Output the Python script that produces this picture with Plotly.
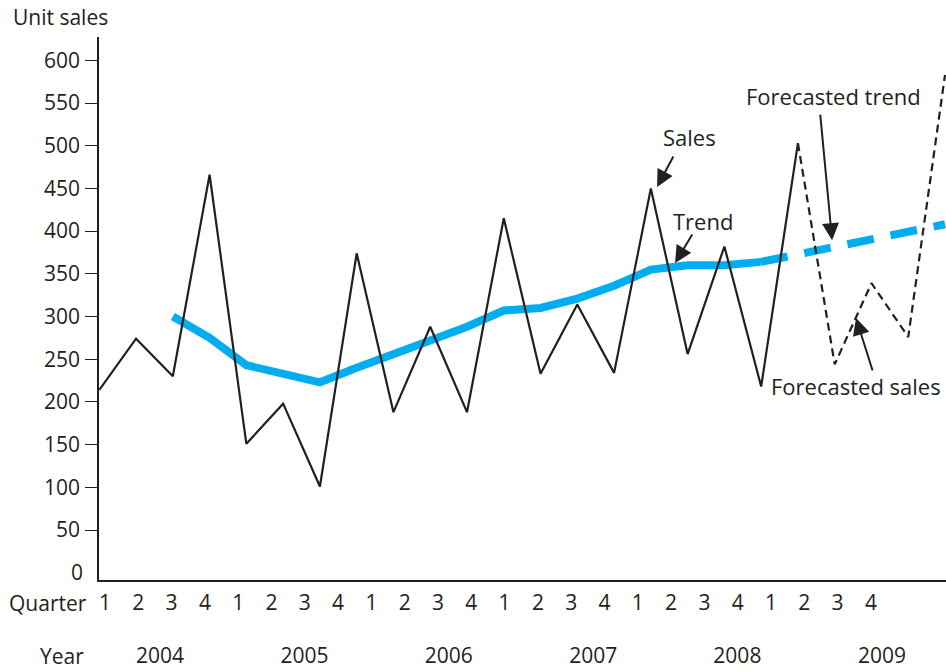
import plotly.graph_objects as go

# ---------------- data ----------------
quarter_labels = ["1", "2", "3", "4"] * 6
year_labels = ["2004", "2005", "2006", "2007", "2008", "2009"]

# quarterly sales, 2004 Q1 .. 2008 Q4 (t = 0..19)
sales = [214, 274, 230, 466, 151, 198, 101, 374, 188, 288,
         188, 415, 233, 314, 234, 450, 256, 382, 218, 503]
sales_t = list(range(0, 20))

# forecasted sales (t = 19..23)
forecast_sales = [503, 244, 339, 276, 583]
forecast_sales_t = list(range(19, 24))

# trend (t = 2..18)
trend = [300, 275, 243, 233, 223, 240, 255, 272, 288, 307,
         310, 321, 336, 355, 360, 360, 364]
trend_t = list(range(2, 19))

# forecasted trend (t = 18..23)
forecast_trend = [364, 373, 381, 389, 398, 408]
forecast_trend_t = list(range(18, 24))

y_ticks = [50, 100, 150, 200, 250, 300, 350, 400, 450, 500, 550, 600]

# label row positions (in quarter-label units of the label axes)
quarter_label_pos = list(range(24))
year_label_pos = [1.65, 5.99, 10.32, 14.66, 18.99, 23.33]

TXT = "#231F20"
BLUE = "#00AEEF"
FONT = "Open Sans"

fig = go.Figure()

fig.add_trace(go.Scatter(x=trend_t, y=trend, mode="lines",
                         line=dict(color=BLUE, width=8), hoverinfo="skip"))
fig.add_trace(go.Scatter(x=forecast_trend_t, y=forecast_trend, mode="lines",
                         line=dict(color=BLUE, width=8, dash="27px,17px"),
                         hoverinfo="skip"))
fig.add_trace(go.Scatter(x=sales_t, y=sales, mode="lines",
                         line=dict(color=TXT, width=2.2), hoverinfo="skip"))
fig.add_trace(go.Scatter(x=forecast_sales_t, y=forecast_sales, mode="lines",
                         line=dict(color=TXT, width=2.2, dash="8px,5px"),
                         hoverinfo="skip"))

# dummy traces so the label-only axes are drawn
fig.add_trace(go.Scatter(x=[None], y=[None], yaxis="y2", hoverinfo="skip"))
fig.add_trace(go.Scatter(x=[None], y=[None], xaxis="x2", hoverinfo="skip"))
fig.add_trace(go.Scatter(x=[None], y=[None], xaxis="x3", hoverinfo="skip"))

left = 99 / 946
yr = [-8.5, 627.3]
qr = [-0.18, 25.255]

fig.update_layout(
    width=946, height=672,
    margin=dict(l=0, r=0, t=37, b=92),
    paper_bgcolor="white", plot_bgcolor="rgba(0,0,0,0)",
    showlegend=False,
    font=dict(family=FONT, size=21, color=TXT),
    xaxis=dict(domain=[left, 1], range=[-0.008, 23.027], anchor="y",
               showline=True, linecolor=TXT, linewidth=1.5,
               ticks="", showticklabels=False, showgrid=False, zeroline=False),
    yaxis=dict(range=yr, anchor="x", tickvals=y_ticks,
               ticks="outside", ticklen=12, tickwidth=1.2, tickcolor=TXT,
               showline=True, linecolor=TXT, linewidth=1.5,
               showgrid=False, zeroline=False, ticklabelstandoff=1),
    yaxis2=dict(range=yr, overlaying="y", anchor="x", side="left",
                tickvals=[0], ticktext=["0"], ticks="", showline=False,
                showgrid=False, zeroline=False, ticklabelstandoff=15),
    xaxis2=dict(overlaying="x", anchor="y", range=qr,
                tickvals=quarter_label_pos, ticktext=quarter_labels,
                ticks="", showline=False, showgrid=False, zeroline=False,
                ticklabelstandoff=8),
    xaxis3=dict(overlaying="x", anchor="y", range=qr,
                tickvals=year_label_pos, ticktext=year_labels,
                ticks="", showline=False, showgrid=False, zeroline=False,
                ticklabelstandoff=61),
)

ann = []
ann.append(dict(xref="paper", yref="paper", x=11 / 946, y=(580 - 17) / 543,
                xanchor="left", yanchor="middle", text="Unit sales",
                showarrow=False, font=dict(size=21, color=TXT)))
ann.append(dict(xref="paper", yref="paper", x=89 / 946, y=(580 - 603) / 543,
                xanchor="right", yanchor="middle", text="Quarter",
                showarrow=False, font=dict(size=21, color=TXT)))
ann.append(dict(xref="paper", yref="paper", x=86 / 946, y=(580 - 656) / 543,
                xanchor="right", yanchor="middle", text="Year",
                showarrow=False, font=dict(size=21, color=TXT)))

# label texts
labels = [("Sales", 16.04, 510.5), ("Trend", 16.42, 411.6),
          ("Forecasted trend", 19.98, 558.0), ("Forecasted sales", 20.58, 218.6)]
for txt, x, y in labels:
    ann.append(dict(x=x, y=y, xref="x", yref="y", text=txt, showarrow=False,
                    xanchor="center", yanchor="middle",
                    font=dict(size=22, color=TXT)))

# arrows (tip in data coords, tail offset in px)
arrows = [(15.17, 451.6, 17, -32), (15.66, 362.6, 18, -30),
          (19.93, 389.4, -12, -127), (20.58, 298.2, 17, 54)]
for x, y, ax, ay in arrows:
    ann.append(dict(x=x, y=y, xref="x", yref="y", ax=ax, ay=ay, text="",
                    showarrow=True, arrowhead=2, arrowsize=1.7,
                    arrowwidth=2, arrowcolor=TXT))

fig.update_layout(annotations=ann)

fig.write_html("out.html")
